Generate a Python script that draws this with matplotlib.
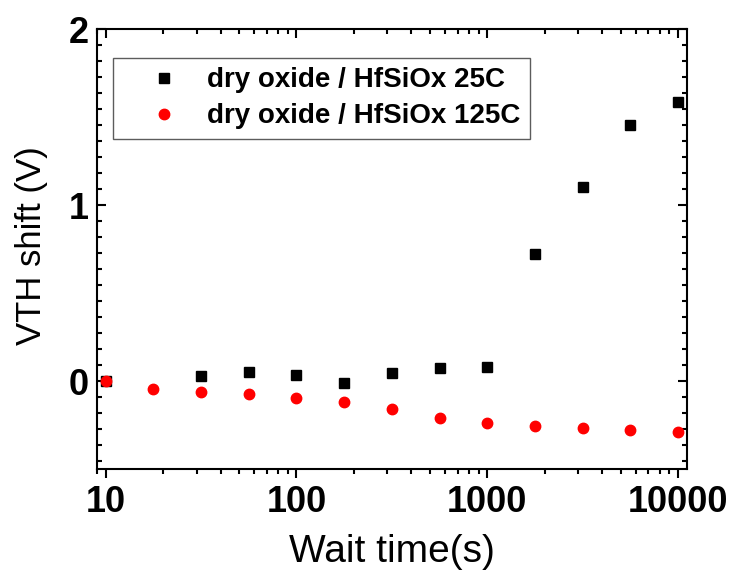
import matplotlib
matplotlib.use('Agg')
import matplotlib.pyplot as plt
from matplotlib.ticker import MultipleLocator, LogLocator, FixedLocator, NullFormatter

plt.rcParams['font.family'] = ['Liberation Sans', 'DejaVu Sans']

# data
t_25 = [10, 31.6, 56.2, 100, 178, 316, 562, 1000, 1778, 3162, 5623, 10000]
v_25 = [0.0, 0.029, 0.050, 0.035, -0.013, 0.044, 0.073, 0.082, 0.723, 1.105, 1.455, 1.587]

t_125 = [10, 17.8, 31.6, 56.2, 100, 178, 316, 562, 1000, 1778, 3162, 5623, 10000]
v_125 = [0.0, -0.043, -0.060, -0.073, -0.094, -0.121, -0.160, -0.210, -0.236,
         -0.257, -0.269, -0.278, -0.289]

labels = ['dry oxide / HfSiOx 25C', 'dry oxide / HfSiOx 125C']
xticks = [10, 100, 1000, 10000]

fig = plt.figure(figsize=(7.33, 5.83), dpi=100)
ax = fig.add_axes([0.1323, 0.1955, 0.805, 0.7542])

ax.plot(t_25, v_25, 's', color='black', markersize=6.5, label=labels[0])
ax.plot(t_125, v_125, 'o', color='red', markersize=7.5, label=labels[1])

ax.set_xscale('log')
ax.set_xlim(9.0, 11150)
ax.set_ylim(-0.5, 2)

ax.xaxis.set_major_locator(FixedLocator(xticks))
ax.set_xticklabels([str(v) for v in xticks])
ax.xaxis.set_minor_locator(LogLocator(base=10, subs=range(2, 10)))
ax.xaxis.set_minor_formatter(NullFormatter())
ax.yaxis.set_major_locator(MultipleLocator(1))
ax.yaxis.set_minor_locator(MultipleLocator(1 / 11))

for s in ax.spines.values():
    s.set_linewidth(1.5)

ax.tick_params(axis='x', which='both', direction='out', top=False, width=1.5, pad=5)
ax.tick_params(axis='y', which='both', direction='in', right=True, width=1.5, pad=6)
ax.tick_params(which='major', length=6.5)
ax.tick_params(which='minor', length=3.6)
for lab in ax.get_xticklabels() + ax.get_yticklabels():
    lab.set_fontsize(26)
    lab.set_fontweight('bold')

# top axis: inward ticks, no labels
top = ax.twiny()
top.set_xscale('log')
top.set_xlim(ax.get_xlim())
top.xaxis.set_major_locator(FixedLocator(xticks))
top.xaxis.set_minor_locator(LogLocator(base=10, subs=range(2, 10)))
top.xaxis.set_major_formatter(NullFormatter())
top.xaxis.set_minor_formatter(NullFormatter())
top.tick_params(axis='x', which='both', direction='in', width=1.5)
top.tick_params(which='major', length=6.5)
top.tick_params(which='minor', length=3.6)
for s in top.spines.values():
    s.set_visible(False)

ax.set_xlabel('Wait time(s)', fontsize=28, labelpad=10)
ax.set_ylabel('VTH shift (V)', fontsize=25)
ax.yaxis.set_label_coords(-0.083, 0.507)

leg = ax.legend(loc='upper left', bbox_to_anchor=(0.027, 0.935), prop={'size': 20, 'weight': 'bold'},
                frameon=True, fancybox=False, edgecolor='#333333', handletextpad=0.05,
                borderpad=0.34, labelspacing=0.36, handlelength=3.0, borderaxespad=0)
leg.get_frame().set_linewidth(1.0)

fig.savefig('out.png', dpi=100)
